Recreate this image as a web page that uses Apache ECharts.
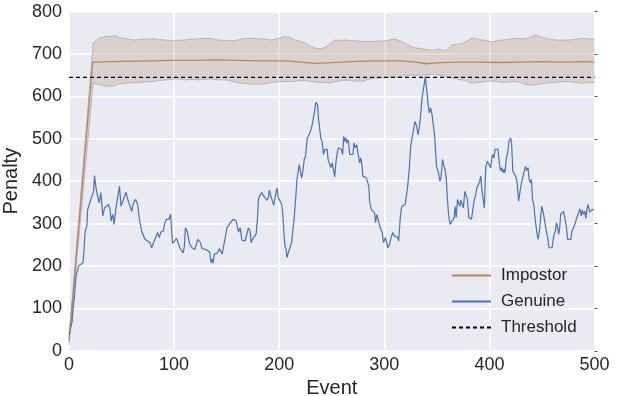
<!DOCTYPE html>
<html><head><meta charset="utf-8">
<script src="https://cdn.jsdelivr.net/npm/echarts/dist/echarts.min.js"></script>
<style>html,body{margin:0;padding:0;background:#fff}#c{width:628px;height:396px}</style>
</head><body><div id="c"></div>
<script>
// ---------- data ----------
const xTicks = [0, 100, 200, 300, 400, 500];
const yTicks = [0, 100, 200, 300, 400, 500, 600, 700, 800];
const thresholdValue = 645;

const impostorEvent   = [0, 22.5, 40, 60, 80, 100, 120, 140, 160, 180, 200, 210, 220, 235, 245, 260, 280, 300, 315, 330, 340, 350, 370, 390, 410, 430, 450, 470, 490, 500];
const impostorPenalty = [22, 681, 682, 683, 684, 685, 685, 686, 685, 684, 684, 683, 681, 678, 679, 681, 683, 684, 684, 681, 677, 679, 681, 681, 680, 681, 682, 681, 682, 681];

const bandEvent = [0,23,28,34,41,44,47,51,57,63,66,72,79,86,91,98,101,110,115,120,123,130,134,142,148,155,161,164,170,174,180,187,193,199,206,212,215,220,225,230,234,237,240,244,247,253,256,263,266,272,279,285,291,301,306,310,313,317,326,331,336,339,345,348,352,358,364,369,374,379,383,388,393,398,402,407,412,418,425,430,434,439,444,448,453,458,463,470,475,482,488,494,500];
const bandLower = [14,631,628,625,624,625,629,630,632,632,632,634,635,637,639,640,642,639,640,640,639,640,641,639,639,636,632,631,630,629,629,630,633,635,635,635,636,637,637,635,634,633,632,633,631,634,636,638,638,636,636,640,643,644,645,646,646,648,650,650,650,650,652,651,650,648,644,641,639,635,631,632,634,636,636,635,633,634,635,632,628,627,627,629,631,632,633,635,635,633,631,632,633];
const bandUpper = [30,726,737,741,742,743,740,737,735,733,734,735,736,734,733,731,732,733,735,735,736,737,737,733,732,731,733,736,737,737,736,735,733,737,741,737,733,730,726,719,714,713,712,716,722,733,732,733,732,731,730,729,730,731,734,735,733,729,717,714,712,711,709,710,712,707,721,723,725,731,738,736,733,731,729,731,733,735,737,736,736,740,745,741,738,735,733,733,733,735,737,736,735];

const genuineEvent = [0,2.8,4.5,5.0,6.9,9.2,10.7,13.3,13.9,15.4,17.0,17.7,19.6,21.8,23.4,24.3,25.9,27.2,28.7,30.3,32.2,33.8,35.3,37.6,39.1,40.1,41.7,42.9,44.5,46.1,48.0,49.5,51.8,54.2,55.9,57.5,59.7,61.3,63.4,65.3,67.0,69.1,70.7,72.3,73.9,74.8,76.0,77.0,78.6,80.2,81.7,83.3,84.3,85.9,87.4,89.7,91.2,92.8,
93.5,95.0,96.6,97.5,98.5,100.4,102.3,103.9,105.4,107.0,108.6,109.8,110.8,112.4,113.4,114.9,116.2,117.1,118.1,119.6,121.2,122.4,123.8,125.0,126.6,128.1,130.4,132.3,133.8,135.1,136.1,137.0,138.3,139.9,141.4,143.0,144.6,145.8,147.1,148.7,150.3,151.8,154.1,156.0,157.5,159.1,160.3,161.3,162.9,164.5,166.0,167.6,169.2,170.7,172.4,173.3,174.5,175.5,176.4,178.0,179.3,180.2,181.2,
181.8,183.4,184.9,186.6,188.2,189.7,190.6,192.0,193.5,194.8,196.0,197.0,197.9,199.1,200.8,202.4,203.3,204.3,205.5,206.4,207.4,208.6,209.6,210.5,211.8,213.1,214.3,215.6,216.9,218.1,219.0,220.4,221.3,222.5,223.8,225.1,226.6,228.2,229.8,231.4,233.0,233.9,234.9,236.5,237.4,238.4,239.6,240.8,242.1,243.4,244.6,245.6,246.5,247.8,249.1,250.3,251.6,252.8,254.1,255.4,256.6,257.9,259.2,260.4,261.4,262.3,263.3,264.2,265.2,266.1,267.1,268.7,270.2,271.1,
272.4,273.7,274.9,276.5,277.5,278.7,279.6,281.3,282.9,284.4,285.3,286.0,287.6,289.1,290.7,291.7,292.9,294.8,296.1,297.1,298.0,299.2,301.1,302.4,303.3,304.9,306.5,308.1,309.7,311.3,312.8,313.7,315.3,316.6,318.2,319.8,321.3,322.6,323.9,325.1,326.4,327.9,329.3,330.8,332.1,333.3,334.6,335.9,337.1,338.4,339.0,340.3,341.6,342.8,344.0,345.4,346.6,347.8,
349.7,350.7,351.6,352.9,353.9,355.4,356.3,357.7,358.9,360.1,361.1,362.7,364.3,365.3,366.5,367.4,368.4,369.6,370.9,371.9,372.8,374.3,375.3,376.6,378.1,379.1,380.4,381.6,382.9,383.8,385.4,387.0,388.0,389.2,390.8,391.8,393.0,394.2,395.2,396.5,398.0,399.6,401.2,402.8,404.4,405.3,406.9,408.2,409.4,410.7,411.7,412.9,413.8,414.8,416.0,417.3,418.6,420.2,421.1,422.3,424.0,425.5,426.4,427.8,429.0,430.2,431.5,432.8,434.4,435.6,436.8,437.8,439.1,440.0,441.0,442.2,443.8,445.4,446.3,447.6,448.6,449.8,451.1,452.7,453.9,455.5,456.7,458.1,459.6,460.5,461.5,462.8,463.7,465.0,465.9,466.9,467.8,469.4,470.6,471.6,473.2,474.4,476.0,477.6,478.5,480.1,481.7,483.2,484.9,486.1,487.4,488.3,489.6,490.8,491.8,492.7,494.0,495.3,496.5,497.8,499.5];
const genuinePenalty = [38,67,114,122,180,200,204,208,224,282,294,333,337,365,376,413,380,380,349,373,318,337,337,345,333,306,322,298,333,333,388,341,357,374,357,353,329,349,357,345,310,282,282,263,267,259,263,255,243,239,263,267,279,267,280,282,302,310,
314,310,322,294,253,253,265,255,243,243,231,247,290,282,286,251,255,243,239,239,251,263,265,255,241,241,239,238,233,208,217,206,228,224,231,241,243,228,247,267,290,294,304,310,310,306,302,280,290,261,263,259,259,290,282,255,263,259,259,275,310,357,365,
369,373,366,361,355,361,379,365,365,343,361,361,384,361,353,345,326,286,247,241,220,231,228,231,255,286,314,357,404,406,439,420,408,424,451,459,500,502,518,533,537,569,586,580,547,545,502,494,463,475,471,475,451,455,432,443,428,410,447,471,479,482,475,463,506,494,502,490,498,490,463,459,463,490,
479,486,467,443,455,439,412,408,408,404,388,353,333,329,326,302,322,318,290,294,279,255,267,263,243,251,267,279,271,271,267,259,318,341,345,345,369,396,435,482,502,522,541,529,510,526,557,596,616,635,647,616,584,561,573,557,533,510,
435,432,420,400,408,451,455,428,408,357,322,298,306,302,314,341,314,357,361,341,355,353,337,376,380,357,314,314,310,310,353,369,384,380,400,412,376,373,337,432,447,451,432,463,455,475,475,476,443,424,432,420,428,420,451,467,494,502,490,424,416,408,396,353,373,392,388,420,435,425,432,404,396,404,357,345,306,275,263,282,310,341,329,326,286,267,243,239,243,239,275,282,302,290,275,290,322,326,329,333,294,263,263,263,282,290,302,314,318,335,318,332,322,329,312,333,345,327,329,333,333];

// ---------- chart ----------
const FONT = 'Liberation Sans, Arial, sans-serif';
const TXT = '#262626';
const pairs = (xs, ys) => xs.map((x, i) => [x, ys[i]]);

const chart = echarts.init(document.getElementById('c'), null, {renderer: 'canvas'});

const bandData = bandEvent.map((e, i) => [e, bandLower[i], bandUpper[i]]);

chart.setOption({
  animation: false,
  backgroundColor: '#ffffff',
  textStyle: {fontFamily: FONT},
  grid: {left: 69, right: 33.5, top: 11.6, bottom: 45.2, show: true, backgroundColor: '#EAEAF2', borderWidth: 0,
         containLabel: false, outerBoundsMode: 'none'},
  xAxis: {
    type: 'value', min: xTicks[0], max: xTicks[xTicks.length - 1], interval: xTicks[1] - xTicks[0],
    name: 'Event', nameLocation: 'middle', nameGap: 21,
    nameTextStyle: {fontSize: 20, color: TXT, fontFamily: FONT},
    axisLine: {show: false}, axisTick: {show: false},
    axisLabel: {fontSize: 18, color: TXT, margin: 5, fontFamily: FONT},
    splitLine: {show: true, lineStyle: {color: '#ffffff', width: 1.5}}
  },
  yAxis: [{
    type: 'value', min: yTicks[0], max: yTicks[yTicks.length - 1], interval: yTicks[1] - yTicks[0],
    name: 'Penalty', nameLocation: 'middle', nameGap: 37,
    nameTextStyle: {fontSize: 20, color: TXT, fontFamily: FONT},
    axisLine: {show: false}, axisTick: {show: false},
    axisLabel: {fontSize: 18, color: TXT, margin: 7, fontFamily: FONT},
    splitLine: {show: true, lineStyle: {color: '#ffffff', width: 1.5}}
  }, {
    type: 'value', position: 'right', min: yTicks[0], max: yTicks[yTicks.length - 1], interval: yTicks[1] - yTicks[0],
    axisLine: {show: false}, axisLabel: {show: false}, splitLine: {show: false},
    axisTick: {show: true, length: 3, lineStyle: {color: '#555', width: 1}}
  }],
  legend: {
    data: ['Impostor', 'Genuine', 'Threshold'],
    orient: 'vertical', left: 446, top: 262,
    itemWidth: 39, itemHeight: 14, itemGap: 9,
    itemStyle: {opacity: 0},
    textStyle: {fontSize: 17, color: TXT, fontFamily: FONT, padding: [0, 0, 0, 5]}
  },
  series: [
    {
      type: 'custom', name: 'band', silent: true, z: 1,
      data: bandData,
      encode: {x: 0, y: [1, 2]},
      renderItem: function (params, api) {
        if (params.dataIndex !== 0) return null;
        const up = bandEvent.map((e, i) => api.coord([e, bandUpper[i]]));
        const lo = bandEvent.map((e, i) => api.coord([e, bandLower[i]]));
        const poly = up.concat(lo.slice().reverse());
        return {
          type: 'group',
          children: [
            {type: 'polygon', shape: {points: poly}, style: {fill: 'rgba(185,150,125,0.30)', stroke: null}},
            {type: 'polyline', shape: {points: up}, style: {stroke: 'rgba(150,148,160,0.55)', lineWidth: 1, fill: null}},
            {type: 'polyline', shape: {points: lo}, style: {stroke: 'rgba(150,148,160,0.55)', lineWidth: 1, fill: null}}
          ]
        };
      }
    },
    {
      type: 'line', name: 'Impostor', z: 3,
      data: pairs(impostorEvent, impostorPenalty),
      showSymbol: false, symbol: 'none',
      lineStyle: {color: '#B8885A', width: 1.3}, itemStyle: {color: '#B8885A'}
    },
    {
      type: 'line', name: 'Genuine', z: 4,
      data: pairs(genuineEvent, genuinePenalty),
      showSymbol: false, symbol: 'none',
      lineStyle: {color: '#4C72B0', width: 1.2}, itemStyle: {color: '#4C72B0'}
    },
    {
      type: 'line', name: 'Threshold', z: 5,
      data: [[xTicks[0], thresholdValue], [xTicks[xTicks.length - 1], thresholdValue]],
      showSymbol: false, symbol: 'none',
      lineStyle: {color: '#000000', width: 1.2, type: [4, 3]}, itemStyle: {color: '#000000'}
    }
  ]
});
</script>
</body></html>
